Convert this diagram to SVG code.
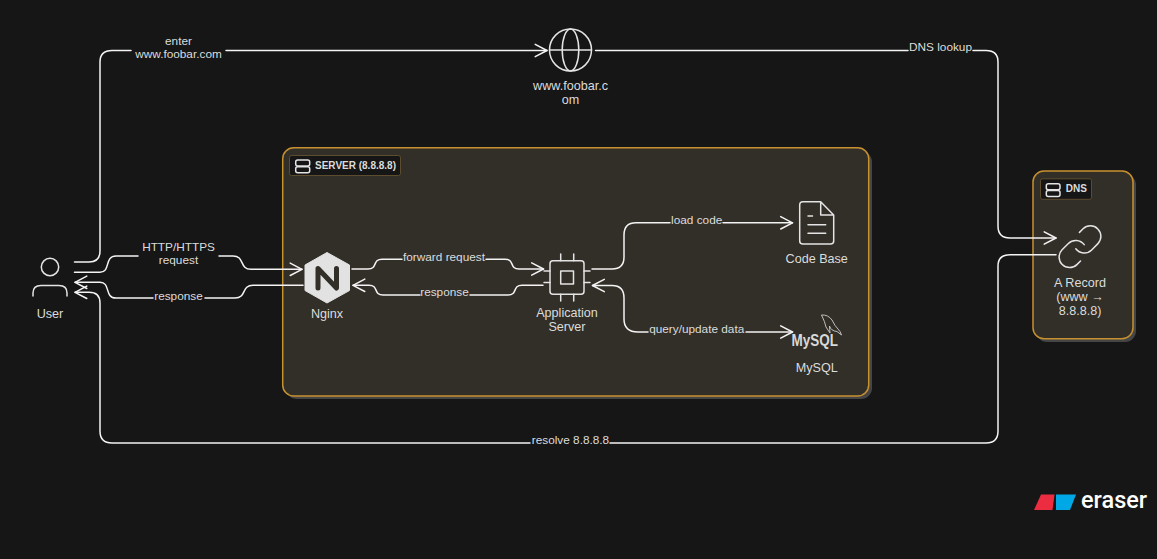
<svg xmlns="http://www.w3.org/2000/svg" width="1157" height="559" viewBox="0 0 1157 559">
<style>
text{font-family:"Liberation Sans",Arial,sans-serif;font-size:12.6px;fill:#dcdcdc;text-anchor:middle}
#labels text{font-size:11.800px}
.c{fill:none;stroke:#f4f4f4;stroke-width:1.5;stroke-linecap:round;stroke-linejoin:round}
.i{fill:none;stroke:#e4e4e4;stroke-width:1.5;stroke-linecap:round;stroke-linejoin:round}
.box{fill:#322f28;stroke:#c8912f;stroke-width:1.5}
.shadow{fill:#454545}
.tag{fill:#161616;stroke:#5d4d2e;stroke-width:1}
.tagt{font-size:10px;font-weight:700;text-anchor:start}
</style>
<defs>
<marker id="a" markerUnits="userSpaceOnUse" markerWidth="16" markerHeight="16" refX="13" refY="8" orient="auto">
<path d="M1.200 1.800L13 8L1.200 14.200" fill="none" stroke="#f4f4f4" stroke-width="1.500" stroke-linecap="round" stroke-linejoin="round"/>
</marker>
</defs>
<rect width="1157" height="559" fill="#161616"/>
<g id="server-group">
<rect class="shadow" x="286" y="151" width="586" height="248" rx="11"/>
<rect class="box" x="282.700" y="147.700" width="586" height="248.300" rx="11"/>
<rect class="tag" x="289.500" y="155.500" width="111" height="20" rx="2"/>
<rect class="i" x="295.700" y="160" width="14" height="6" rx="2"/>
<rect class="i" x="295.700" y="166.800" width="14" height="6" rx="2"/>
<text class="tagt" x="315" y="169">SERVER (8.8.8.8)</text>
</g>
<g id="dns-group">
<rect class="shadow" x="1036" y="174" width="100" height="168" rx="11"/>
<rect class="box" x="1033" y="171" width="100" height="167.700" rx="11"/>
<rect class="tag" x="1040.500" y="178.800" width="51" height="20.500" rx="2"/>
<rect class="i" x="1046.300" y="183.700" width="13.700" height="6" rx="2"/>
<rect class="i" x="1046.300" y="190.400" width="13.700" height="6" rx="2"/>
<text class="tagt" x="1065.700" y="192.400">DNS</text>
</g>
<g id="connectors">
<path class="c" marker-end="url(#a)" d="M74.500 262H89Q100 262 100 251V62Q100 50.500 112 50.500H131M226 50.500H547"/>
<path class="c" marker-end="url(#a)" d="M74.500 272.300H100C111 272.300 104 256 116 256H138M219 256H233C245 256 239 269.300 251 269.300H302"/>
<path class="c" marker-end="url(#a)" d="M303 285.300H253C241 285.300 247 298 235 298H205M153 298H116C104 298 111 282.300 100 282.300H75"/>
<path class="c" marker-end="url(#a)" d="M1056 254.700H1010Q998 254.700 998 266V431Q998 443 986 443H610M530 443H112Q100 443 100 431V303Q100 292.300 89 292.300H75"/>
<path class="c" marker-end="url(#a)" d="M595.500 50.500H908M973 50.500H986Q998 50.500 998 62V226Q998 238 1010 238H1056"/>
<path class="c" marker-end="url(#a)" d="M352 269H368C378 269 372 259.300 382 259.300H402M486 259.300H505C515 259.300 509 269 519 269H543.500"/>
<path class="c" marker-end="url(#a)" d="M543 285.300H522C512 285.300 518 295 508 295H470M420 295H383C373 295 379 285.300 369 285.300H353"/>
<path class="c" marker-end="url(#a)" d="M592 269H612Q624 269 624 257V235Q624 222.800 636 222.800H670M723 222.800H792.500"/>
<path class="c" marker-end="url(#a)" d="M648 332H638Q624 332 624 319V298Q624 285.500 612 285.500H592.500"/>
<path class="c" marker-end="url(#a)" d="M746 332H792.500"/>
</g>
<g id="user">
<circle class="i" cx="50" cy="267" r="8.700"/>
<path class="i" d="M33 296V293Q33 285.500 41 285.500H59Q67 285.500 67 293V296"/>
<text x="50" y="317.500">User</text>
</g>
<g id="website">
<circle class="i" cx="570.500" cy="50" r="21"/>
<ellipse class="i" cx="570.500" cy="50" rx="8.300" ry="21"/>
<path class="i" d="M549.500 50H591.500"/>
<text x="570.500" y="90">www.foobar.c</text>
<text x="570.500" y="103.500">om</text>
</g>
<g id="nginx">
<path d="M327 252.500L349.500 265V290.500L327 303L305 290.500V265Z" fill="#e2e2e2" stroke="#e2e2e2" stroke-linejoin="round"/>
<path d="M318 288V268.500L336.500 288V268.500" fill="none" stroke="#322f28" stroke-width="5" stroke-linecap="round" stroke-linejoin="round"/>
<text x="327" y="317.500">Nginx</text>
</g>
<g id="app-server">
<rect class="i" x="550" y="260.700" width="34" height="33.600" rx="3"/>
<rect class="i" x="560.700" y="271" width="12.800" height="13"/>
<path class="i" d="M560.700 254V260.700M573.700 254V260.700M560.700 294.300V301M573.700 294.300V301M544 271H550M544 282.500H550M584 271H590M584 282.500H590"/>
<text x="567" y="317.300">Application</text>
<text x="567" y="331.300">Server</text>
</g>
<g id="code-base">
<path class="i" d="M820.700 201.800H803Q799.700 201.800 799.700 205V241Q799.700 244 803 244H830.500Q833.700 244 833.700 241V215ZM820.700 201.800V215H833.700M808 216H812.500M808 224.700H825.700M808 233.300H825.700"/>
<text x="816.700" y="262.700">Code Base</text>
</g>
<g id="mysql">
<text x="814.800" y="345.700" textLength="46.500" lengthAdjust="spacingAndGlyphs" style="font-size:17px;font-weight:700;fill:#d8d8d8">MySQL</text>
<path d="M821.500 315Q828 314.500 832 320Q834 325 840 331.500L841.500 335L837 331.500Q831 331 829.500 326L830 333L826 327Q825 322 821.500 315Z" fill="none" stroke="#cfcfcf" stroke-width="0.900" stroke-linejoin="round"/>
<text x="816.700" y="372">MySQL</text>
</g>
<g id="a-record">
<g transform="translate(1054.800 221.500) scale(2.100)">
<path d="M10 13a5 5 0 0 0 7.540.540l3-3a5 5 0 0 0-7.070-7.070l-1.720 1.710M14 11a5 5 0 0 0-7.540-.540l-3 3a5 5 0 0 0 7.070 7.070l1.710-1.710" fill="none" stroke="#e4e4e4" stroke-width="0.720" stroke-linecap="round" stroke-linejoin="round"/>
</g>
<text x="1080" y="286.700">A Record</text>
<text x="1080" y="300.800">(www →</text>
<text x="1080" y="315">8.8.8.8)</text>
</g>
<g id="labels">
<text x="178.500" y="44.700">enter</text>
<text x="178.500" y="57.700">www.foobar.com</text>
<text x="178.500" y="251">HTTP/HTTPS</text>
<text x="178.500" y="264.300">request</text>
<text x="178.500" y="299.500">response</text>
<text x="444" y="260.700">forward request</text>
<text x="444.500" y="296">response</text>
<text x="696.700" y="224">load code</text>
<text x="696.700" y="333">query/update data</text>
<text x="940.500" y="51">DNS lookup</text>
<text x="570.500" y="444">resolve 8.8.8.8</text>
</g>
<g id="eraser-logo">
<path d="M1034 510L1041 494.500H1054.500L1052.500 510Z" fill="#ec2c40"/>
<path d="M1056 494.500H1076L1070 510H1056Z" fill="#00a9e5"/>
<text x="1081" y="508" style="font-family:Roboto,'Liberation Sans',sans-serif;font-size:23.500px;font-weight:500;fill:#fff;text-anchor:start">eraser</text>
</g>
</svg>
